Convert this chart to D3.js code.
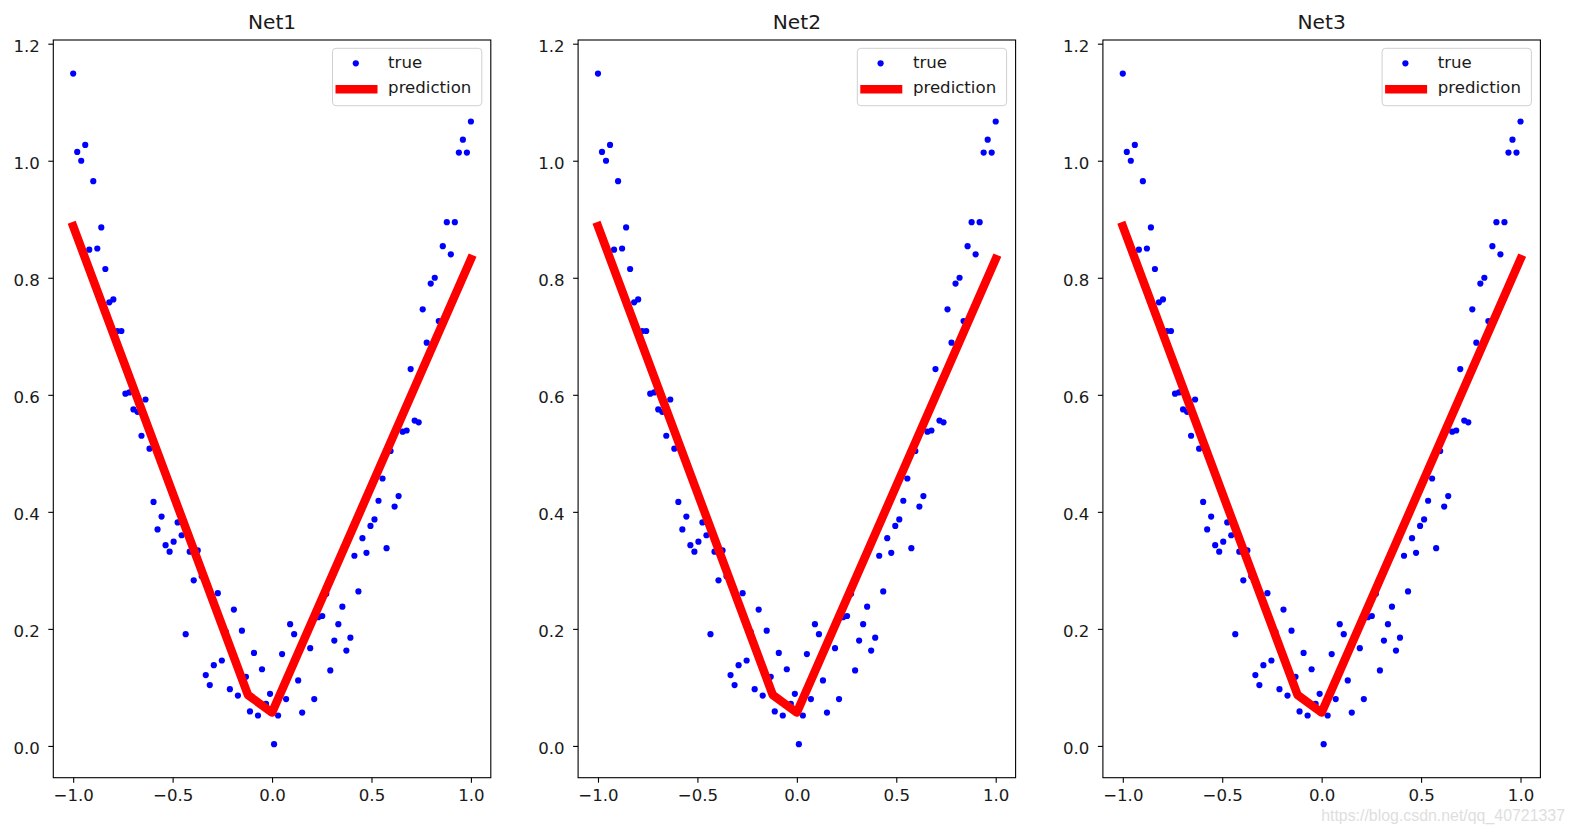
<!DOCTYPE html>
<html>
<head>
<meta charset="utf-8">
<script src="https://cdn.jsdelivr.net/npm/d3@7"></script>
<style>
  html, body { margin: 0; padding: 0; background: #ffffff; }
  svg { display: block; font-family: "DejaVu Sans", sans-serif; }
</style>
</head>
<body>
<svg id="chart" width="1575" height="835"></svg>
<script>
// ---------- data ----------
const panelTitles = ["Net1", "Net2", "Net3"];
const pointCount = 100;
const xStart = -1.0;
const xEnd = 1.0;
const trueY = [
  1.149, 1.015, 1.000, 1.027, 0.848, 0.965, 0.850, 0.886, 0.815, 0.758,
  0.763, 0.709, 0.709, 0.602, 0.604, 0.575, 0.571, 0.530, 0.592, 0.508,
  0.417, 0.370, 0.392, 0.343, 0.332, 0.349, 0.382, 0.360, 0.191, 0.332,
  0.283, 0.334, 0.290, 0.121, 0.104, 0.138, 0.261, 0.146, 0.195, 0.097,
  0.233, 0.086, 0.197, 0.118, 0.059, 0.159, 0.052, 0.131, 0.072, 0.089,
  0.003, 0.052, 0.157, 0.080, 0.208, 0.191, 0.112, 0.057, 0.190, 0.167,
  0.080, 0.220, 0.222, 0.260, 0.129, 0.180, 0.208, 0.238, 0.163, 0.185,
  0.325, 0.264, 0.355, 0.330, 0.376, 0.387, 0.419, 0.457, 0.338, 0.504,
  0.409, 0.427, 0.537, 0.539, 0.644, 0.556, 0.553, 0.746, 0.689, 0.790,
  0.800, 0.726, 0.854, 0.895, 0.840, 0.895, 1.014, 1.036, 1.014, 1.067
];
const predX = [-1.0, -0.121, 0.0, 1.0];
const predY = [0.888, 0.087, 0.057, 0.832];
const xTicks = [-1.0, -0.5, 0.0, 0.5, 1.0];
const yTicks = [0.0, 0.2, 0.4, 0.6, 0.8, 1.0, 1.2];
const legendLabels = ["true", "prediction"];
const watermark = "https://blog.csdn.net/qq_40721337";

// ---------- build ----------
const trueX = d3.range(pointCount).map(i => xStart + i * (xEnd - xStart) / (pointCount - 1));
const points = trueX.map((x, i) => ({x, y: trueY[i]}));
const pred = predX.map((x, i) => ({x, y: predY[i]}));

const svg = d3.select("#chart");
const panelLefts = [53.3, 578.1, 1102.9];
const panelTop = 40;
const panelW = 437.5;
const panelH = 737.7;

function padded(ext) {
  const r = ext[1] - ext[0];
  return [ext[0] - 0.05 * r, ext[1] + 0.05 * r];
}
const xDom = padded(d3.extent(trueX));
const yDom = padded(d3.extent(trueY));

const fmt = d3.format(".1f");

panelTitles.forEach((title, p) => {
  const g = svg.append("g").attr("transform", `translate(${panelLefts[p]},${panelTop})`);
  const x = d3.scaleLinear().domain(xDom).range([0, panelW]);
  const y = d3.scaleLinear().domain(yDom).range([panelH, 0]);

  // points
  g.append("g").selectAll("circle").data(points).join("circle")
    .attr("cx", d => x(d.x)).attr("cy", d => y(d.y)).attr("r", 3.1)
    .attr("fill", "#0000ff");

  // prediction line
  g.append("path").datum(pred)
    .attr("d", d3.line().x(d => x(d.x)).y(d => y(d.y)))
    .attr("fill", "none").attr("stroke", "#ff0000").attr("stroke-width", 8.5)
    .attr("stroke-linecap", "square").attr("stroke-linejoin", "round");

  // frame
  g.append("rect").attr("x", 0).attr("y", 0).attr("width", panelW).attr("height", panelH)
    .attr("fill", "none").attr("stroke", "#000").attr("stroke-width", 1.1);

  // axes
  const xa = g.append("g").attr("transform", `translate(0,${panelH})`)
    .call(d3.axisBottom(x).tickValues(xTicks).tickFormat(fmt).tickSize(5).tickPadding(7));
  const ya = g.append("g")
    .call(d3.axisLeft(y).tickValues(yTicks).tickFormat(fmt).tickSize(5).tickPadding(8.5));
  [xa, ya].forEach(a => {
    a.select(".domain").remove();
    a.selectAll("line").attr("stroke", "#000").attr("stroke-width", 1.1);
    a.selectAll("text").attr("font-size", 16.6).attr("fill", "#1a1a1a")
      .attr("font-family", "DejaVu Sans, sans-serif");
  });
  ya.selectAll("text").attr("dy", "0.45em");

  // title
  g.append("text").attr("x", panelW / 2).attr("y", 29 - panelTop)
    .attr("text-anchor", "middle").attr("font-size", 20.2).attr("fill", "#1a1a1a")
    .text(title);

  // legend
  const lg = g.append("g").attr("transform", `translate(${panelW - 158.3},8.3)`);
  lg.append("rect").attr("width", 149.3).attr("height", 57.4).attr("rx", 3.5)
    .attr("fill", "#ffffff").attr("fill-opacity", 0.8)
    .attr("stroke", "#d0d0d0").attr("stroke-width", 1);
  lg.append("circle").attr("cx", 23.3).attr("cy", 15).attr("r", 3.1).attr("fill", "#0000ff");
  lg.append("line").attr("x1", 3).attr("x2", 45).attr("y1", 41).attr("y2", 41)
    .attr("stroke", "#ff0000").attr("stroke-width", 8.5);
  lg.selectAll("text.lab").data(legendLabels).join("text").attr("class", "lab")
    .attr("x", 55.6).attr("y", (d, i) => 20 + i * 25)
    .attr("font-size", 16.6).attr("fill", "#1a1a1a").text(d => d);
});

// watermark
svg.append("text").attr("x", 1565).attr("y", 820.5).attr("text-anchor", "end")
  .attr("font-family", "Liberation Sans, Arial, sans-serif").attr("font-size", 15.9)
  .attr("fill", "#dedede").text(watermark);
</script>
</body>
</html>
